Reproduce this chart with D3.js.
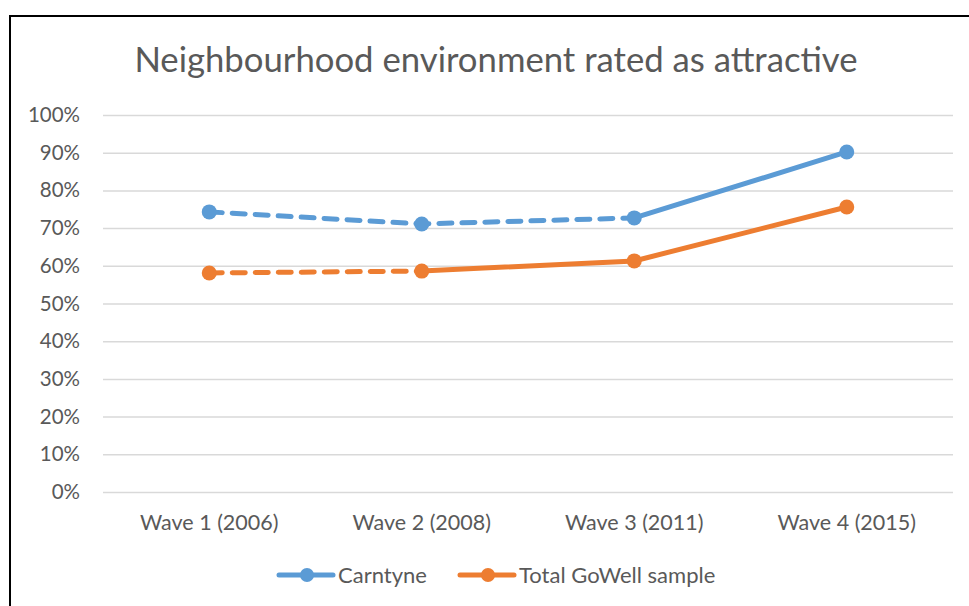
<!DOCTYPE html>
<html>
<head>
<meta charset="utf-8">
<script src="https://cdn.jsdelivr.net/npm/d3@7"></script>
<style>
  body { margin: 0; background: #fff; }
  text { font-family: Lato, "Open Sans", sans-serif; fill: #595959; }
</style>
</head>
<body>
<div id="chart"></div>
<script>
// data
const waves = ["Wave 1 (2006)", "Wave 2 (2008)", "Wave 3 (2011)", "Wave 4 (2015)"];
const carntyne = [74.3, 71.1, 72.7, 90.2];
const totalGoWell = [58.1, 58.6, 61.3, 75.6];
const yTicks = [0, 10, 20, 30, 40, 50, 60, 70, 80, 90, 100];
// index of the last point drawn with a dashed line
const carntyneDashUntil = 2;
const totalDashUntil = 1;

const W = 969, H = 606;
const margin = {top: 115, right: 16, bottom: 114, left: 103};
const width = W - margin.left - margin.right;
const height = H - margin.top - margin.bottom;

const svg = d3.select("#chart").append("svg")
    .attr("width", W)
    .attr("height", H);

// chart border
svg.append("rect")
    .attr("x", 10).attr("y", 16)
    .attr("width", W + 20).attr("height", H + 20)
    .attr("fill", "white")
    .attr("stroke", "black")
    .attr("stroke-width", 2);

svg.append("text")
    .attr("x", 496).attr("y", 72)
    .attr("text-anchor", "middle")
    .attr("font-size", 34.7)
    .text("Neighbourhood environment rated as attractive");

const g = svg.append("g")
    .attr("transform", `translate(${margin.left},${margin.top})`);

const x = d3.scaleBand().domain(waves).range([0, width]);
const y = d3.scaleLinear().domain([0, 100]).range([height, 0]);

// gridlines + y labels
const yAxis = g.append("g")
    .call(d3.axisLeft(y).tickValues(yTicks).tickSize(-width).tickPadding(23)
        .tickFormat(d => d + "%"));
yAxis.select(".domain").remove();
yAxis.selectAll("line").attr("stroke", "#d9d9d9").attr("stroke-width", 1.5);
yAxis.selectAll("text").attr("font-size", 20.5).attr("font-family", null).attr("fill", "#595959");

// x labels
const xAxis = g.append("g")
    .attr("transform", `translate(0,${height})`)
    .call(d3.axisBottom(x).tickSize(0).tickPadding(23));
xAxis.select(".domain").remove();
xAxis.selectAll("text").attr("font-size", 21.5).attr("font-family", null).attr("fill", "#595959");

const series = [
    {name: "Carntyne", values: carntyne, color: "#5B9BD5", dashUntil: carntyneDashUntil},
    {name: "Total GoWell sample", values: totalGoWell, color: "#ED7D31", dashUntil: totalDashUntil}
];

const cx = i => x(waves[i]) + x.bandwidth() / 2;
const line = d3.line().x(d => cx(d.i)).y(d => y(d.v));

series.forEach(s => {
    const pts = s.values.map((v, i) => ({i, v}));
    g.append("path")
        .datum(pts.slice(0, s.dashUntil + 1))
        .attr("d", line)
        .attr("fill", "none")
        .attr("stroke", s.color)
        .attr("stroke-width", 5)
        .attr("stroke-dasharray", "13,10")
        .attr("stroke-linecap", "round");
    g.append("path")
        .datum(pts.slice(s.dashUntil))
        .attr("d", line)
        .attr("fill", "none")
        .attr("stroke", s.color)
        .attr("stroke-width", 5)
        .attr("stroke-linecap", "round");
    g.selectAll(null).data(pts).enter().append("circle")
        .attr("cx", d => cx(d.i))
        .attr("cy", d => y(d.v))
        .attr("r", 7.5)
        .attr("fill", s.color);
});

// legend
const legendX = [279, 460];
const legend = svg.append("g").attr("transform", "translate(0,575)");
series.forEach((s, i) => {
    const lg = legend.append("g").attr("transform", `translate(${legendX[i]},0)`);
    lg.append("line")
        .attr("x1", 0).attr("x2", 54)
        .attr("stroke", s.color).attr("stroke-width", 5).attr("stroke-linecap", "round");
    lg.append("circle").attr("cx", 28).attr("r", 7).attr("fill", s.color);
    lg.append("text")
        .attr("x", 59).attr("y", 8)
        .attr("font-size", 22)
        .text(s.name);
});
</script>
</body>
</html>
